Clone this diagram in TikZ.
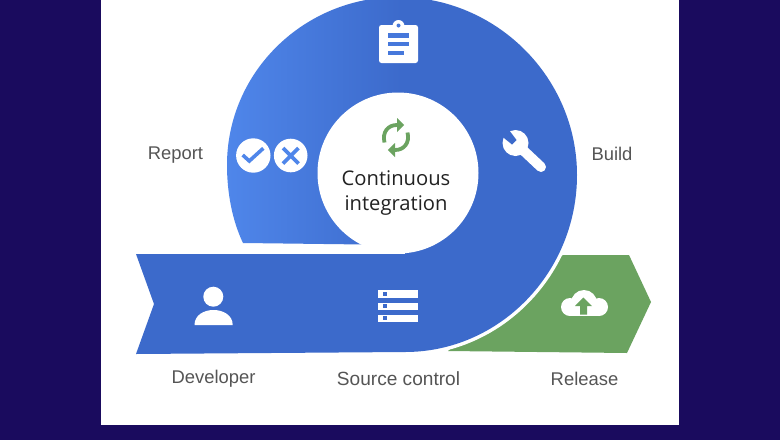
\documentclass[tikz,border=0pt]{standalone}
\usepackage{fontspec}
\setmainfont{Liberation Sans}
\newfontfamily\titlefont{Open Sans}
\definecolor{navy}{HTML}{1A0B5E}
\definecolor{bluelight}{HTML}{4F86EA}
\definecolor{bluedark}{HTML}{3C6ACB}
\definecolor{greenfill}{HTML}{6BA360}
\definecolor{labelgrey}{HTML}{555555}
\definecolor{titleink}{HTML}{222222}
\tikzset{
  lab/.style={text=labelgrey,font=\fontsize{18.4}{20}\selectfont,inner sep=0pt,anchor=center},
  ttl/.style={text=titleink,font=\titlefont\fontsize{20.2}{22}\selectfont,inner sep=0pt,anchor=base},
  sym/.style={draw=bluelight,line width=3.6pt,line cap=butt,line join=miter},
  sync/.style={draw=greenfill,line width=3.8pt},
}
\newcommand{\outerpath}{(243,243) .. controls (232,220) and (227,192) .. (227,165)
  .. controls (227,72) and (304,-3) .. (398,-3)
  .. controls (497,-3) and (577,78) .. (577,175)
  .. controls (577,272) and (500,352) .. (405,352)}
\begin{document}
\begin{tikzpicture}[x=1pt,y=-1pt]
\useasboundingbox (0,0) rectangle (780,440);
\fill[navy] (0,0) rectangle (780,440);
\fill[white] (101,0) rectangle (679,425);
\begin{scope}
\clip (0,0) rectangle (780,440);
% green arrow
\fill[greenfill] (448,351) -- (520,290) -- (563,255) -- (629,255) -- (651,302) -- (627,353) -- cycle;
\draw[white,line width=7pt] \outerpath;
% blue spiral
\shade[left color=bluelight,right color=bluedark,middle color=bluedark,draw=none]
  \outerpath -- (405,245) -- cycle;
\fill[bluedark] (136,254) -- (405,254) -- (405,352) -- (136,354) -- (154,304) -- cycle;
\fill[white] (398,173) circle[radius=80.5];
\end{scope}
% clipboard
\fill[white,rounded corners=2.5pt] (379,25) rectangle (418,63);
\fill[white] (398.5,26) circle[radius=6];
\fill[bluedark!50!bluelight] (398.5,25.5) circle[radius=2];
\fill[bluedark!50!bluelight] (387.5,33) rectangle (408.5,37.5);
\fill[bluedark!50!bluelight] (387.5,41.5) rectangle (408.5,46);
\fill[bluedark!50!bluelight] (387.5,50.5) rectangle (403.5,55);
% check and cross
\fill[white] (253.3,155.5) circle[radius=17.2];
\fill[white] (290.7,155.5) circle[radius=16.8];
\draw[sym] (242.7,155) -- (249.3,161) -- (263.3,148.3);
\draw[sym] (283,148) -- (298.5,163.5) (298.5,148) -- (283,163.5);
% wrench
\fill[white] (515.5,143) circle[radius=13];
\draw[white,line width=10pt,line cap=round] (515.5,143) -- (541,167);
\fill[bluedark] (506,126) -- (499,134) -- (512,144.5) -- (516.5,140) -- cycle;
% person
\fill[white] (213.3,296.7) circle[radius=10];
\fill[white] (194.5,325) .. controls (194.5,315) and (204,310) .. (213.5,310) .. controls (223,310) and (232.7,315) .. (232.7,325) -- cycle;
% server
\fill[white] (378,290) rectangle (418,297.5);
\fill[white] (378,302.5) rectangle (418,310);
\fill[white] (378,314.5) rectangle (418,322);
\fill[bluedark] (382.5,291.7) rectangle (386.5,295.7);
\fill[bluedark] (382.5,304.2) rectangle (386.5,308.2);
\fill[bluedark] (382.5,316.2) rectangle (386.5,320.2);
% cloud
\fill[white] (570,307) circle[radius=9];
\fill[white] (599,307) circle[radius=9];
\fill[white] (584,303) circle[radius=13];
\fill[white] (570,305) rectangle (599,316);
\fill[greenfill] (583.3,297.5) -- (592,306) -- (587,306) -- (587,314.7) -- (580,314.7) -- (580,306) -- (575,306) -- cycle;
% sync
\draw[sync] (384.5,142.5) .. controls (382,132) and (388,125) .. (397,125);
\fill[greenfill] (397,118) -- (404.2,125) -- (397,132) -- cycle;
\draw[sync] (407.5,132.5) .. controls (410,143) and (404,150) .. (395,150);
\fill[greenfill] (395,157) -- (387.8,150) -- (395,143) -- cycle;
% labels
\node[ttl] (cont) at (396,185) {Continuous};
\node[ttl] (integ) at (396,210) {integration};
\node[lab] (report) at (175.5,155.5) {Report};
\node[lab] (build) at (612,154) {Build};
\node[lab] (dev) at (213.5,378.5) {Developer};
\node[lab,font=\fontsize{19.1}{20}\selectfont] (src) at (398.5,379) {Source control};
\node[lab] (rel) at (584.5,378.5) {Release};
\end{tikzpicture}
\end{document}
